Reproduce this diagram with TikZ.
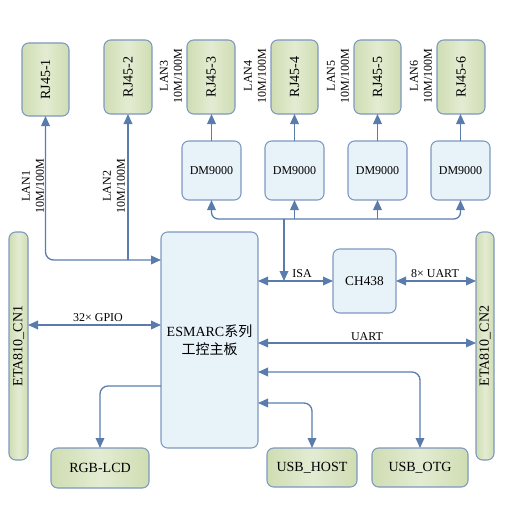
\documentclass[tikz,border=0pt]{standalone}
\usepackage{fontspec}
\setmainfont{Liberation Serif}
\newfontfamily\cjk{Noto Sans CJK SC}
\usetikzlibrary{arrows.meta}
\definecolor{ln}{HTML}{5A7CAD}
\definecolor{gfill}{HTML}{CFDDB2}
\definecolor{gfillL}{HTML}{E3ECD2}
\definecolor{bfill}{HTML}{E8F2F9}
\definecolor{bdr}{HTML}{7D98C0}
\newcommand\boxat[7]{\node[#1, minimum width={(#4-#2)*0.75pt}, minimum height={(#5-#3)*0.75pt}] (#6) at ({(#2+#4)/2},{(#3+#5)/2}) {#7};}
\begin{document}
\begin{tikzpicture}[x=0.75pt,y=-0.75pt,
  base/.style={draw=bdr, line width=0.8pt, rounded corners=5pt, inner sep=0pt, outer sep=0pt, align=center},
  gbox/.style={base, left color=gfill, right color=gfill, middle color=gfillL, font=\fontsize{10.5}{12}\selectfont},
  bbox/.style={base, fill=bfill, font=\fontsize{9}{11}\selectfont},
  mainbox/.style={base, fill=bfill, font=\fontsize{10.5}{13.5}\selectfont},
  arr/.style={draw=ln, line width=1pt, -{Triangle[length=7.5pt,width=6.5pt]}},
  darr/.style={draw=ln, line width=1pt, {Triangle[length=7.5pt,width=6.5pt]}-{Triangle[length=7.5pt,width=6.5pt]}},
  lbl/.style={font=\fontsize{9}{10.5}\selectfont, inner sep=0pt, align=center},
  rlbl/.style={lbl, rotate=90}
]
\useasboundingbox (0,0) rectangle (504,510);
% RJ45 connectors
\boxat{gbox}{22}{43}{69}{116}{rj1}{\rotatebox{90}{RJ45-1}}
\boxat{gbox}{104}{40}{152}{114}{rj2}{\rotatebox{90}{RJ45-2}}
\boxat{gbox}{187}{40}{235}{114}{rj3}{\rotatebox{90}{RJ45-3}}
\boxat{gbox}{271}{40}{318}{114}{rj4}{\rotatebox{90}{RJ45-4}}
\boxat{gbox}{354}{40}{401}{114}{rj5}{\rotatebox{90}{RJ45-5}}
\boxat{gbox}{437}{40}{485}{114}{rj6}{\rotatebox{90}{RJ45-6}}
% DM9000
\boxat{bbox}{182}{141}{241}{200}{dm1}{DM9000}
\boxat{bbox}{265}{141}{324}{200}{dm2}{DM9000}
\boxat{bbox}{348}{141}{407}{200}{dm3}{DM9000}
\boxat{bbox}{431}{141}{490}{200}{dm4}{DM9000}
% main
\boxat{mainbox}{161}{232}{258}{448}{main}{ESMARC{\cjk 系列}\\{\cjk 工控主板}}
\boxat{gbox}{9}{232}{28}{460}{cn1}{\rotatebox{90}{ETA810\_CN1}}
\boxat{gbox}{476}{232}{494}{460}{cn2}{\rotatebox{90}{ETA810\_CN2}}
\boxat{bbox}{333}{249}{396}{313}{ch}{\fontsize{10}{12}\selectfont CH438}
\boxat{gbox}{51}{448}{149}{488}{rgb}{RGB-LCD}
\boxat{gbox}{267}{448}{357}{487}{host}{USB\_HOST}
\boxat{gbox}{372}{448}{468}{487}{otg}{USB\_OTG}
% coordinates
\coordinate (bus) at (284,219);
\coordinate (lan) at (0,260);
\coordinate (gpio) at (0,325);
\coordinate (uart) at (0,343);
\coordinate (otgy) at (0,372);
\coordinate (lcdy) at (0,386);
\coordinate (hosty) at (0,403);
% DM -> RJ
\draw[arr] (dm1.north) -- (dm1.north |- rj3.south);
\draw[arr] (dm2.north) -- (dm2.north |- rj4.south);
\draw[arr] (dm3.north) -- (dm3.north |- rj5.south);
\draw[arr] (dm4.north) -- (dm4.north |- rj6.south);
% bus
\draw[arr, rounded corners=5pt] (bus) -| (dm1.south);
\draw[arr, rounded corners=5pt] (bus) -| (dm4.south);
\draw[arr] (dm2.south |- bus) -- (dm2.south);
\draw[arr] (dm3.south |- bus) -- (dm3.south);
\draw[arr] (bus) -- (bus |- ch.west);
% ISA, UART, GPIO
\draw[darr] (main.east |- ch.west) -- (ch.west);
\draw[darr] (ch.east) -- (ch.east -| cn2.west);
\draw[darr] (main.east |- uart) -- (cn2.west |- uart);
\draw[darr] (cn1.east |- gpio) -- (main.west |- gpio);
% LAN1/LAN2
\draw[darr, rounded corners=6pt] (rj1.south) |- (main.west |- lan);
\draw[arr] (rj2.south |- lan) -- (rj2.south);
% USB and LCD
\draw[darr, rounded corners=6pt] (main.east |- otgy) -| (otg.north);
\draw[darr, rounded corners=6pt] (main.east |- hosty) -| (host.north);
\draw[arr, rounded corners=6pt] (main.west |- lcdy) -| (rgb.north);
% labels
\node[rlbl] (l1) at (33,186) {LAN1\\10M/100M};
\node[rlbl] (l2) at (114,186) {LAN2\\10M/100M};
\node[rlbl] (l3) at (171,76) {LAN3\\10M/100M};
\node[rlbl] (l4) at (255,76) {LAN4\\10M/100M};
\node[rlbl] (l5) at (338,76) {LAN5\\10M/100M};
\node[rlbl] (l6) at (421,76) {LAN6\\10M/100M};
\node[lbl] (isa) at (302,274) {ISA};
\node[lbl] (u8) at (435,274) {8× UART};
\node[lbl] (g32) at (98,318) {32× GPIO};
\node[lbl] (ul) at (367,337) {UART};
\end{tikzpicture}
\end{document}
